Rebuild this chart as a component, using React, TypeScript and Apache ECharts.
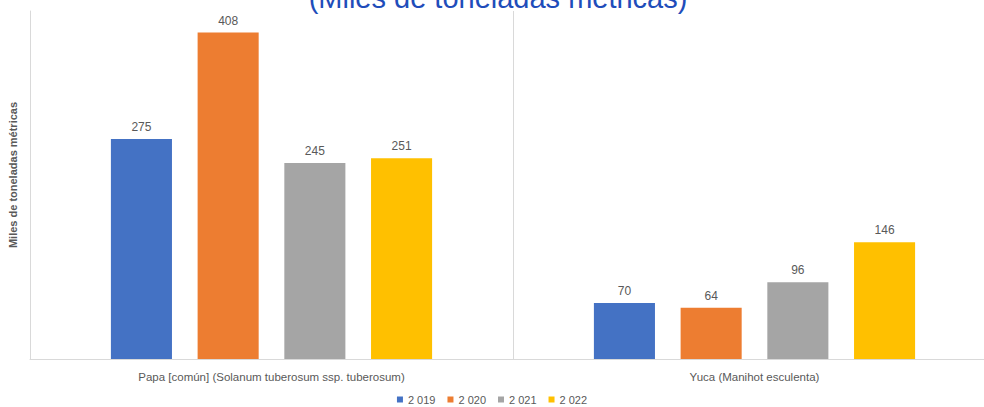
import React, { useEffect, useRef } from "react";
import * as echarts from "echarts";

const categories = [
  "Papa [común] (Solanum tuberosum ssp. tuberosum)",
  "Yuca (Manihot esculenta)",
];
const seriesNames = ["2 019", "2 020", "2 021", "2 022"];
const values2019 = [275, 70];
const values2020 = [408, 64];
const values2021 = [245, 96];
const values2022 = [251, 146];
const colors = ["#4472C4", "#ED7D31", "#A5A5A5", "#FFC000"];
const titleText = "(Miles de toneladas métricas)";
const yAxisName = "Miles de toneladas métricas";

const FONT = "'Liberation Sans Narrow', 'Liberation Sans', Arial, sans-serif";

export default function App() {
  const ref = useRef<HTMLDivElement>(null);
  useEffect(() => {
    if (!ref.current) return;
    const chart = echarts.init(ref.current, null, { renderer: "svg" });
    const data = [values2019, values2020, values2021, values2022];
    chart.setOption({
      animation: false,
      textStyle: { fontFamily: FONT },
      graphic: [
        {
          type: "text",
          x: 498,
          y: 12,
          style: {
            text: titleText,
            fill: "#1F4DBA",
            font: "29px 'Liberation Sans', Arial, sans-serif",
            textAlign: "center",
            textVerticalAlign: "bottom",
          },
        },
      ],
      legend: {
        bottom: -3,
        left: "center",
        itemWidth: 6,
        itemHeight: 6,
        itemGap: 12,
        icon: "rect",
        textStyle: { fontSize: 11, color: "#595959", fontFamily: FONT },
        data: seriesNames,
      },
      grid: { left: 30, width: 966, top: 11, bottom: 48, outerBoundsMode: "none" },
      xAxis: {
        type: "category",
        data: categories,
        axisLine: { show: true, lineStyle: { color: "#D9D9D9", width: 1 } },
        axisTick: { show: false },
        splitLine: { show: true, lineStyle: { color: "#D9D9D9", width: 1 } },
        axisLabel: {
          color: "#595959",
          fontSize: 11.5,
          margin: 12,
          fontFamily: FONT,
        },
      },
      yAxis: {
        type: "value",
        min: 0,
        max: 435,
        name: yAxisName,
        nameLocation: "middle",
        nameGap: 12,
        nameTextStyle: {
          color: "#595959",
          fontSize: 11,
          fontWeight: "bold",
          fontFamily: FONT,
          padding: [0, 0, 0, 20],
        },
        axisLine: { show: true, lineStyle: { color: "#D9D9D9" } },
        axisTick: { show: false },
        axisLabel: { show: false },
        splitLine: { show: false },
      },
      series: seriesNames.map((name, i) => ({
        name,
        type: "bar",
        data: data[i],
        barGap: "42%",
        barCategoryGap: "33.5%",
        itemStyle: { color: colors[i] },
        label: {
          show: true,
          position: "top",
          distance: 6,
          color: "#595959",
          fontSize: 12,
          fontFamily: FONT,
        },
      })),
    });
    return () => chart.dispose();
  }, []);
  return <div ref={ref} style={{ width: 984, height: 407, position: "absolute", left: 0, top: 0 }} />;
}
